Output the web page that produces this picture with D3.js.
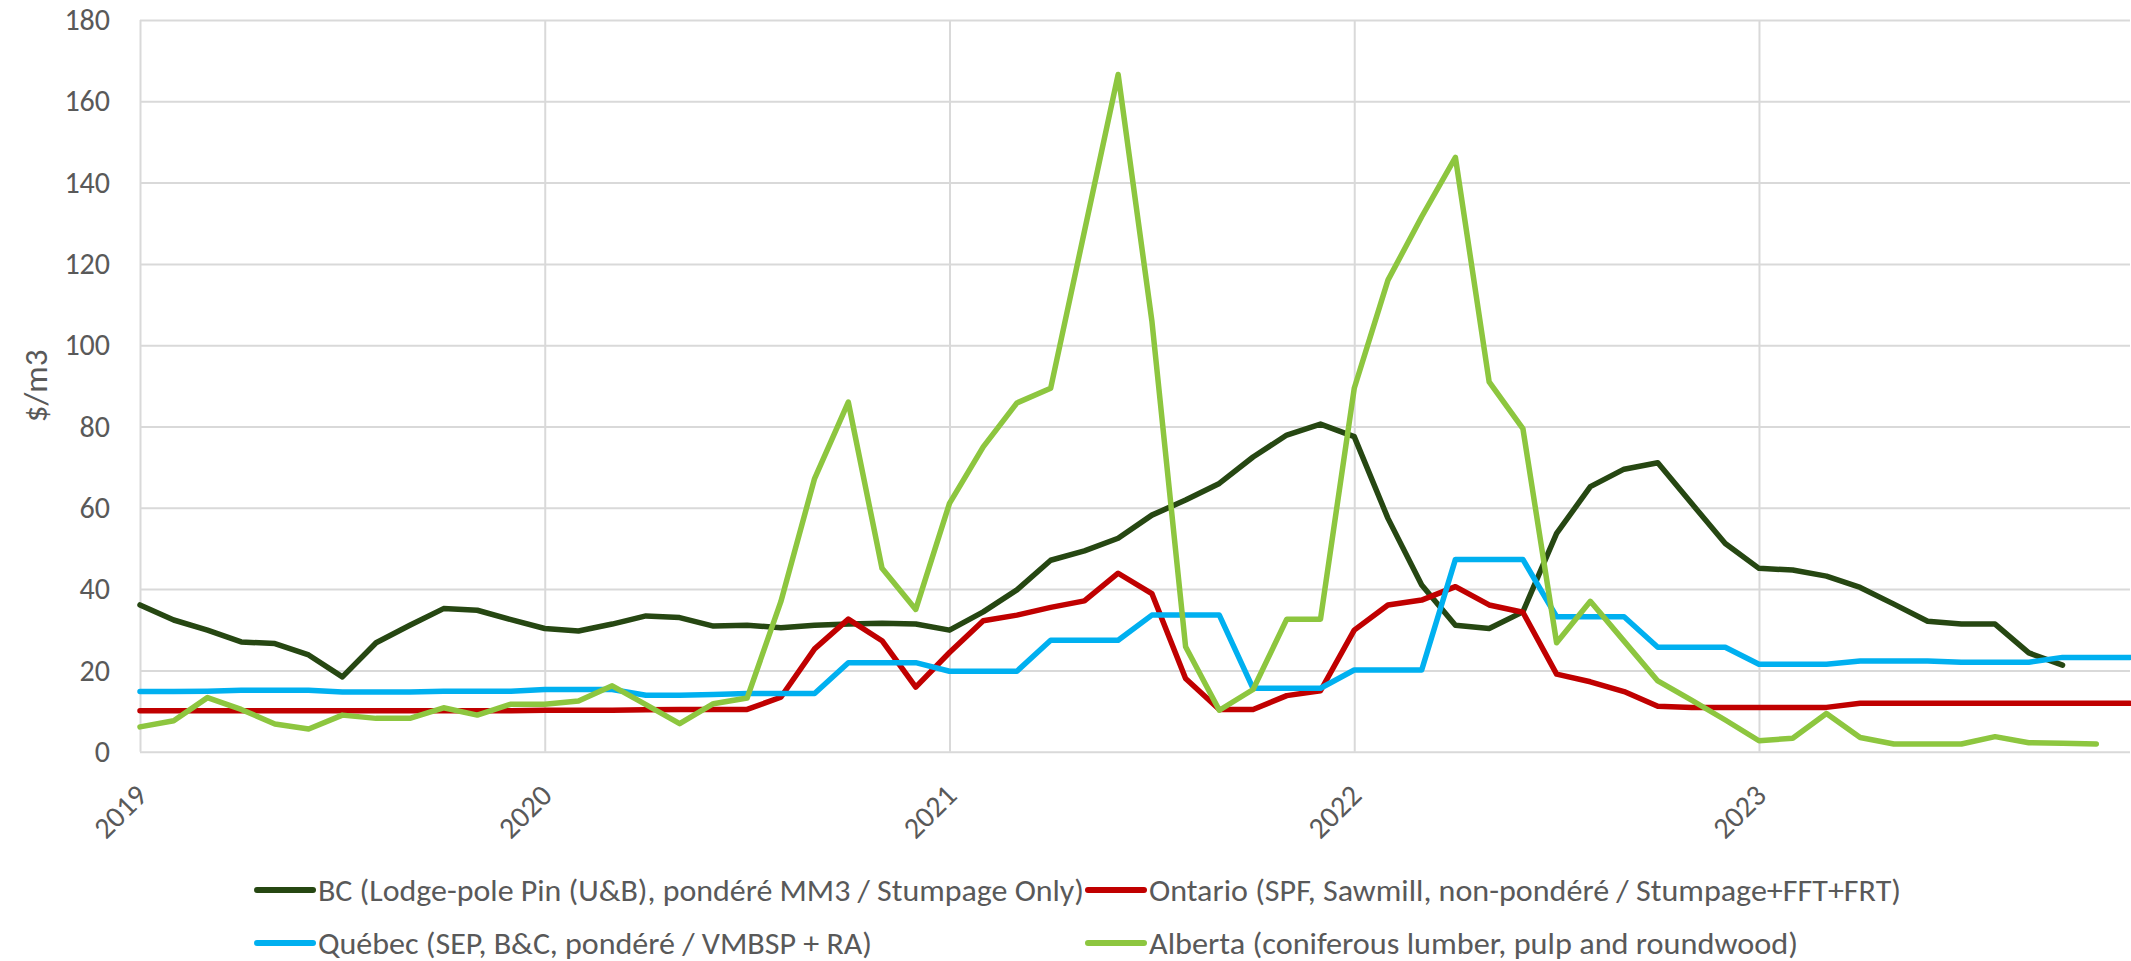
<!DOCTYPE html>
<html>
<head>
<meta charset="utf-8">
<script src="https://cdn.jsdelivr.net/npm/d3@7"></script>
<style>
  body { margin: 0; background: #fff; }
  svg text { font-family: Carlito, Calibri, Lato, "Open Sans", sans-serif; fill: #595959; }
  .grid line, .xgrid line { stroke: #d9d9d9; stroke-width: 2px; }
  .grid .domain, .xgrid .domain { display: none; }
  .line { fill: none; stroke-width: 5.5px; stroke-linejoin: round; stroke-linecap: round; }
</style>
</head>
<body>
<div id="chart-area"></div>
<script>
/* Data (monthly, Jan 2019 -> Dec 2023) */
const yearLabels = ['2019', '2020', '2021', '2022', '2023'];
const yTicks = [0, 20, 40, 60, 80, 100, 120, 140, 160, 180];

const bcValues = [
  36.1, 32.4, 29.9, 27.0, 26.6, 23.8, 18.4, 26.8, 31.1, 35.2, 34.8, 32.5,
  30.3, 29.7, 31.4, 33.4, 33.0, 30.9, 31.1, 30.5, 31.1, 31.4, 31.6, 31.4,
  29.9, 34.4, 39.8, 47.1, 49.4, 52.5, 58.2, 61.9, 66.0, 72.5, 77.9, 80.6,
  77.5, 57.4, 41.0, 31.1, 30.3, 34.4, 53.7, 65.2, 69.5, 71.1, 61.1, 51.2,
  45.1, 44.7, 43.2, 40.4, 36.3, 32.1, 31.4, 31.4, 24.3, 21.3, null, null
];
const ontarioValues = [
  10.1, 10.1, 10.1, 10.1, 10.1, 10.1, 10.1, 10.1, 10.1, 10.1, 10.1, 10.1,
  10.2, 10.2, 10.2, 10.3, 10.4, 10.4, 10.4, 13.4, 25.3, 32.6, 27.3, 15.9,
  24.4, 32.2, 33.6, 35.5, 37.1, 43.9, 38.9, 18.0, 10.4, 10.4, 13.8, 15.0,
  29.9, 36.1, 37.3, 40.6, 36.1, 34.3, 19.1, 17.2, 14.8, 11.2, 10.9, 10.9,
  10.9, 10.9, 10.9, 11.9, 11.9, 11.9, 11.9, 11.9, 11.9, 11.9, 11.9, 11.9
];
const quebecValues = [
  14.8, 14.8, 14.9, 15.1, 15.1, 15.1, 14.7, 14.7, 14.7, 14.9, 14.9, 14.9,
  15.3, 15.3, 15.3, 13.9, 13.9, 14.1, 14.3, 14.3, 14.3, 21.9, 21.9, 21.9,
  19.8, 19.8, 19.8, 27.4, 27.4, 27.4, 33.6, 33.6, 33.6, 15.6, 15.6, 15.6,
  20.1, 20.1, 20.1, 47.3, 47.3, 47.3, 33.2, 33.2, 33.2, 25.7, 25.7, 25.7,
  21.5, 21.5, 21.5, 22.3, 22.3, 22.3, 22.0, 22.0, 22.0, 23.2, 23.2, 23.2
];
const albertaValues = [
  6.1, 7.6, 13.3, 10.4, 6.8, 5.6, 9.0, 8.2, 8.2, 10.8, 9.0, 11.7,
  11.7, 12.5, 16.2, 11.6, 6.9, 11.8, 13.2, 36.9, 67.2, 86.0, 45.1, 35.0,
  61.1, 75.0, 85.8, 89.4, 128.0, 166.6, 106.0, 25.8, 10.2, 15.3, 32.6, 32.6,
  89.4, 116.0, 131.6, 146.2, 91.0, 79.5, 26.8, 37.0, 27.2, 17.4, 12.7, 7.8,
  2.7, 3.3, 9.4, 3.5, 1.9, 1.9, 1.9, 3.7, 2.2, 2.1, 1.9, null
];

const seriesNames = [
  'BC (Lodge-pole Pin (U&B), pondéré MM3 / Stumpage Only)',
  'Ontario (SPF, Sawmill, non-pondéré / Stumpage+FFT+FRT)',
  'Québec (SEP, B&C, pondéré / VMBSP + RA)',
  'Alberta (coniferous lumber, pulp and roundwood)'
];
const seriesValues = [bcValues, ontarioValues, quebecValues, albertaValues];
const seriesColors = ['#264712', '#c00000', '#00b0f0', '#8dc63f'];


/** Constructor **/
LineChart = function(_parentElement){
    this.parentElement = _parentElement;
    this.initVis();
};

/** Static parts **/
LineChart.prototype.initVis = function(){
    const vis = this;

    vis.margin = { left: 140, right: 1, top: 20, bottom: 209.3 };
    vis.width  = 2131 - vis.margin.left - vis.margin.right;
    vis.height = 961 - vis.margin.top - vis.margin.bottom;

    vis.svg = d3.select(vis.parentElement)
        .append('svg')
        .attr('width', 2131)
        .attr('height', 961);

    vis.g = vis.svg.append('g')
        .attr('transform', `translate(${vis.margin.left}, ${vis.margin.top})`);

    vis.yGrid = vis.g.append('g').attr('class', 'grid');
    vis.xGrid = vis.g.append('g').attr('class', 'xgrid')
        .attr('transform', `translate(0,${vis.height})`);

    vis.yLabel = vis.svg.append('text')
        .attr('transform', `translate(36, ${vis.margin.top + vis.height / 2}) rotate(-90)`)
        .attr('text-anchor', 'middle')
        .attr('dominant-baseline', 'central')
        .attr('font-size', '33px')
        .text('$/m3');

    vis.wrangleData();
};

/** Select Data **/
LineChart.prototype.wrangleData = function(){
    const vis = this;

    vis.series = seriesNames.map((name, k) => ({
        name: name,
        color: seriesColors[k],
        values: seriesValues[k].map((v, i) => ({ month: i, value: v }))
    }));
    vis.nMonths = bcValues.length;

    vis.updateVis();
};

/** Update **/
LineChart.prototype.updateVis = function(){
    const vis = this;

    vis.xScale = d3.scaleLinear()
        .domain([0, vis.nMonths - 1])
        .range([0, vis.width]);

    vis.yScale = d3.scaleLinear()
        .domain([0, 180])
        .range([vis.height, 0]);

    /* Axis / grid */
    vis.yGrid.call(d3.axisLeft(vis.yScale)
            .tickValues(yTicks)
            .tickSizeInner(-vis.width)
            .tickSizeOuter(0)
            .tickPadding(30))
        .selectAll('text')
        .attr('font-size', '30px');

    vis.xGrid.call(d3.axisBottom(vis.xScale)
            .tickValues(yearLabels.map((d, i) => i * 12))
            .tickSizeInner(-vis.height)
            .tickSizeOuter(0)
            .tickFormat((d, i) => yearLabels[i]))
        .selectAll('text')
        .attr('font-size', '30px')
        .attr('text-anchor', 'end')
        .attr('dominant-baseline', 'central')
        .attr('x', 0).attr('y', 0).attr('dy', 0)
        .attr('transform', 'translate(1,38) rotate(-45)');

    vis.line();
    vis.legend();
};

/** Plot Lines **/
LineChart.prototype.line = function(){
    const vis = this;

    const line = d3.line()
        .defined(d => d.value != null)
        .x(d => vis.xScale(d.month))
        .y(d => vis.yScale(d.value));

    vis.g.selectAll('.line')
        .data(vis.series)
        .enter().append('path')
            .attr('class', 'line')
            .attr('stroke', d => d.color)
            .attr('d', d => line(d.values));
};

/** Legend **/
LineChart.prototype.legend = function(){
    const vis = this;

    const colX = [257, 1088];
    const rowY = [890, 943];
    const textWidths = [766, 752, 554, 649];

    const item = vis.svg.selectAll('.legend-item')
        .data(vis.series)
        .enter().append('g')
            .attr('class', 'legend-item')
            .attr('transform', (d, i) => `translate(${colX[i % 2]}, ${rowY[Math.floor(i / 2)]})`);

    item.append('line')
        .attr('x1', 0).attr('x2', 56)
        .attr('stroke', d => d.color)
        .attr('stroke-width', 6)
        .attr('stroke-linecap', 'round');

    item.append('text')
        .attr('x', 61)
        .attr('dominant-baseline', 'central')
        .attr('font-size', '30px')
        .attr('textLength', (d, i) => textWidths[i])
        .attr('lengthAdjust', 'spacingAndGlyphs')
        .text(d => d.name);
};

new LineChart('#chart-area');
</script>
</body>
</html>
